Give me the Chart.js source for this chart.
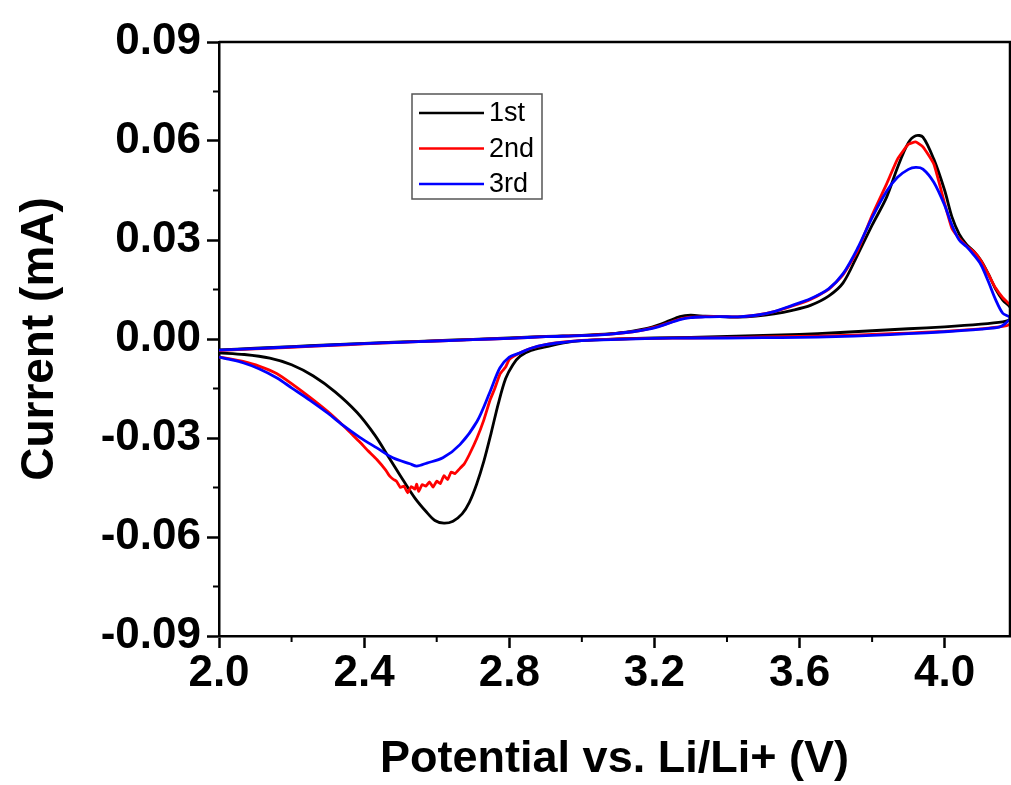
<!DOCTYPE html>
<html>
<head>
<meta charset="utf-8">
<script src="https://cdn.jsdelivr.net/npm/chart.js@4.4.1/dist/chart.umd.min.js"></script>
<style>
  html, body { margin: 0; padding: 0; background: #fff; }
  canvas { display: block; }
</style>
</head>
<body>
<canvas id="cv" width="1011" height="785"></canvas>
<script>
// tick positions
const xTicks = [2.0, 2.4, 2.8, 3.2, 3.6, 4.0];
const xMinorTicks = [2.2, 2.6, 3.0, 3.4, 3.8];
const yTicks = [-0.09, -0.06, -0.03, 0.00, 0.03, 0.06, 0.09];
const yMinorTicks = [-0.075, -0.045, -0.015, 0.015, 0.045, 0.075];

const cycleLabels = ['1st', '2nd', '3rd'];
const cycleColors = ['#000000', '#ff0000', '#0000ff'];

// anodic sweep 2.0 -> 4.18 V, shared potential grid
const anodicV = [2.00, 2.10, 2.20, 2.30, 2.40, 2.50, 2.60, 2.70, 2.80, 2.90, 3.00, 3.08, 3.14, 3.18, 3.21, 3.24,
  3.27, 3.30, 3.34, 3.38, 3.43, 3.48, 3.53, 3.58, 3.63, 3.68, 3.72, 3.76, 3.80, 3.84, 3.87, 3.90, 3.92, 3.94,
  3.97, 4.00, 4.02, 4.04, 4.06, 4.08, 4.10, 4.12, 4.14, 4.16, 4.18];

const cycle1AnodicI = [-0.0033, -0.0028, -0.0023, -0.0018, -0.0013, -0.0009, -0.0005, -0.0001, 0.0003, 0.0008,
  0.0011, 0.0016, 0.0024, 0.0032, 0.0042, 0.0055, 0.0068, 0.0072, 0.0069, 0.0068, 0.0066, 0.0069, 0.0076,
  0.0087, 0.0102, 0.0130, 0.0170, 0.0255, 0.0345, 0.0430, 0.0520, 0.0595, 0.0616, 0.0612, 0.0545, 0.0450,
  0.0370, 0.0318, 0.0287, 0.0266, 0.0238, 0.0198, 0.0152, 0.0118, 0.0097];

const cycle2AnodicI = [-0.0035, -0.0030, -0.0025, -0.0020, -0.0015, -0.0010, -0.0006, -0.0002, 0.0002, 0.0007,
  0.0010, 0.0015, 0.0022, 0.0030, 0.0038, 0.0049, 0.0060, 0.0066, 0.0068, 0.0068, 0.0067, 0.0072, 0.0083,
  0.0100, 0.0120, 0.0150, 0.0195, 0.0268, 0.0375, 0.0470, 0.0545, 0.0590, 0.0597, 0.0582, 0.0530, 0.0410,
  0.0335, 0.0305, 0.0282, 0.0265, 0.0237, 0.0197, 0.0155, 0.0125, 0.0103];

const cycle3AnodicI = [-0.0034, -0.0029, -0.0024, -0.0019, -0.0014, -0.0010, -0.0006, -0.0002, 0.0002, 0.0007,
  0.0010, 0.0015, 0.0022, 0.0029, 0.0037, 0.0048, 0.0059, 0.0065, 0.0067, 0.0068, 0.0067, 0.0072, 0.0083,
  0.0102, 0.0122, 0.0152, 0.0198, 0.0275, 0.0368, 0.0448, 0.0490, 0.0514, 0.0520, 0.0515, 0.0475, 0.0405,
  0.0345, 0.0300, 0.0280, 0.0255, 0.0225, 0.0175, 0.0120, 0.0078, 0.0064];

// cathodic sweep back to 2.0 V
const cycle1CathodicV = [4.20, 4.18, 4.16, 4.10, 4.00, 3.90, 3.80, 3.70, 3.60, 3.50, 3.40, 3.30, 3.20, 3.10, 3.00,
  2.95, 2.90, 2.86, 2.83, 2.81, 2.79, 2.77, 2.75, 2.73, 2.71, 2.69, 2.67, 2.645, 2.62, 2.595, 2.57, 2.54, 2.51,
  2.47, 2.43, 2.38, 2.32, 2.26, 2.20, 2.14, 2.07, 2.00];
const cycle1CathodicI = [0.0068, 0.0058, 0.0052, 0.0045, 0.0037, 0.0031, 0.0025, 0.0019, 0.0014, 0.0011, 0.0008,
  0.0005, 0.0003, 0.0000, -0.0005, -0.0012, -0.0024, -0.0035, -0.0052, -0.0078, -0.0120, -0.0195, -0.0285,
  -0.0370, -0.0440, -0.0495, -0.0530, -0.0552, -0.0558, -0.0550, -0.0522, -0.0482, -0.0432, -0.0362, -0.0292,
  -0.0222, -0.0160, -0.0112, -0.0078, -0.0058, -0.0047, -0.0042];

const cycle2CathodicV = [4.20, 4.18, 4.16, 4.10, 4.00, 3.90, 3.80, 3.70, 3.60, 3.50, 3.40, 3.30, 3.20, 3.10, 3.00,
  2.95, 2.90, 2.86, 2.83, 2.80, 2.79, 2.775, 2.76, 2.747, 2.73, 2.711, 2.69, 2.675, 2.664, 2.65, 2.64, 2.63, 2.62,
  2.61, 2.60, 2.59, 2.58, 2.57, 2.56, 2.55, 2.545, 2.54, 2.53, 2.52, 2.51, 2.50, 2.49, 2.48, 2.47, 2.46, 2.435,
  2.41, 2.388, 2.365, 2.342, 2.30, 2.25, 2.20, 2.16, 2.11, 2.066, 2.03, 2.00];
const cycle2CathodicI = [0.0070, 0.0045, 0.0038, 0.0031, 0.0023, 0.0018, 0.0014, 0.0010, 0.0008, 0.0006, 0.0004,
  0.0003, 0.0002, 0.0000, -0.0004, -0.0009, -0.0017, -0.0028, -0.0042, -0.0062, -0.0085, -0.0105, -0.0150,
  -0.0185, -0.0245, -0.0300, -0.0350, -0.0380, -0.0392, -0.0408, -0.0403, -0.0426, -0.0414, -0.0438, -0.0431,
  -0.0449, -0.0433, -0.0446, -0.0441, -0.0462, -0.0440, -0.0455, -0.0447, -0.0466, -0.0446, -0.0450, -0.0432,
  -0.0425, -0.0415, -0.0398, -0.0365, -0.0338, -0.0312, -0.0287, -0.0262, -0.0220, -0.0176, -0.0135, -0.0105,
  -0.0082, -0.0068, -0.0060, -0.0055];

const cycle3CathodicV = [4.165, 4.15, 4.10, 4.00, 3.90, 3.80, 3.70, 3.60, 3.50, 3.40, 3.30, 3.20, 3.10, 3.00,
  2.95, 2.90, 2.86, 2.83, 2.80, 2.774, 2.747, 2.711, 2.664, 2.617, 2.573, 2.545, 2.526, 2.479, 2.435, 2.388,
  2.342, 2.30, 2.25, 2.20, 2.16, 2.11, 2.066, 2.03, 2.00];
const cycle3CathodicI = [0.0045, 0.0036, 0.0030, 0.0022, 0.0016, 0.0011, 0.0007, 0.0005, 0.0004, 0.0003, 0.0003,
  0.0002, -0.0001, -0.0005, -0.0010, -0.0017, -0.0028, -0.0042, -0.0055, -0.0088, -0.0160, -0.0250, -0.0320,
  -0.0360, -0.0376, -0.0385, -0.0378, -0.0360, -0.0330, -0.0298, -0.0262, -0.0225, -0.0185, -0.0148, -0.0118,
  -0.0090, -0.0072, -0.0062, -0.0055];

function toPoints(vs, is) {
    return vs.map((v, i) => ({ x: v, y: is[i] }));
}

const cycles = [
    toPoints(anodicV, cycle1AnodicI).concat(toPoints(cycle1CathodicV, cycle1CathodicI)),
    toPoints(anodicV, cycle2AnodicI).concat(toPoints(cycle2CathodicV, cycle2CathodicI)),
    toPoints(anodicV, cycle3AnodicI).concat(toPoints(cycle3CathodicV, cycle3CathodicI))
];

Chart.defaults.font.family = "'Liberation Sans', Arial, sans-serif";
Chart.defaults.color = '#000';

// minor ticks, top/right frame and the boxed legend
const framePlugin = {
    id: 'frame',
    afterDraw(chart) {
        const { ctx, chartArea, scales } = chart;
        const { left, right, top, bottom } = chartArea;
        ctx.save();
        ctx.strokeStyle = '#000';
        ctx.lineWidth = 2.5;
        ctx.beginPath();
        ctx.moveTo(left, top);
        ctx.lineTo(right, top);
        ctx.lineTo(right, bottom);
        ctx.stroke();

        ctx.lineWidth = 2;
        ctx.beginPath();
        xMinorTicks.forEach(v => {
            const px = scales.x.getPixelForValue(v);
            ctx.moveTo(px, bottom);
            ctx.lineTo(px, bottom + 6);
        });
        yMinorTicks.forEach(v => {
            const py = scales.y.getPixelForValue(v);
            ctx.moveTo(left, py);
            ctx.lineTo(left - 6, py);
        });
        ctx.stroke();

        // legend box
        const bx = left + 193, by = top + 52, bw = 130, bh = 105;
        ctx.fillStyle = '#fff';
        ctx.fillRect(bx, by, bw, bh);
        ctx.strokeStyle = '#555';
        ctx.lineWidth = 1.5;
        ctx.strokeRect(bx, by, bw, bh);
        ctx.font = "27px 'Liberation Sans', Arial, sans-serif";
        ctx.textBaseline = 'middle';
        chart.data.datasets.forEach((ds, i) => {
            const ly = by + 19 + i * 35.5;
            ctx.strokeStyle = ds.borderColor;
            ctx.lineWidth = 2.5;
            ctx.beginPath();
            ctx.moveTo(bx + 7, ly);
            ctx.lineTo(bx + 72, ly);
            ctx.stroke();
            ctx.fillStyle = '#000';
            ctx.fillText(ds.label, bx + 77, ly + 1);
        });
        ctx.restore();
    }
};

new Chart(document.getElementById('cv'), {
    type: 'scatter',
    data: {
        datasets: cycles.map((pts, i) => ({
            label: cycleLabels[i],
            data: pts,
            showLine: true,
            borderColor: cycleColors[i],
            backgroundColor: cycleColors[i],
            borderWidth: 2.8,
            pointRadius: 0,
            tension: i === 1 ? 0.15 : 0.3,
            order: 2 - i
        }))
    },
    options: {
        responsive: false,
        animation: false,
        layout: { padding: { top: 42, right: 1, left: 0, bottom: 0 } },
        plugins: {
            legend: { display: false },
            tooltip: { enabled: false }
        },
        scales: {
            x: {
                type: 'linear',
                min: 2.0,
                max: 4.18,
                afterBuildTicks: scale => { scale.ticks = xTicks.map(v => ({ value: v })); },
                afterFit: scale => { scale.height = 149; },
                ticks: {
                    font: { size: 44, weight: 'bold', lineHeight: 1 },
                    padding: 4,
                    maxRotation: 0,
                    callback: v => v.toFixed(1)
                },
                grid: {
                    drawOnChartArea: false,
                    tickLength: 12,
                    tickColor: '#000',
                    tickWidth: 2.5
                },
                border: { color: '#000', width: 2.5 },
                title: {
                    display: true,
                    text: 'Potential vs. Li/Li+ (V)',
                    font: { size: 45, weight: 'bold', lineHeight: 1 },
                    padding: { top: 0, bottom: 3 }
                }
            },
            y: {
                type: 'linear',
                min: -0.09,
                max: 0.09,
                afterBuildTicks: scale => { scale.ticks = yTicks.map(v => ({ value: v })); },
                afterFit: scale => { scale.width = 219; },
                ticks: {
                    font: { size: 44, weight: 'bold', lineHeight: 1 },
                    padding: 6,
                    callback: v => v.toFixed(2)
                },
                grid: {
                    drawOnChartArea: false,
                    tickLength: 12,
                    tickColor: '#000',
                    tickWidth: 2.5
                },
                border: { color: '#000', width: 2.5 },
                title: {
                    display: true,
                    text: 'Current (mA)',
                    font: { size: 46, weight: 'bold', lineHeight: 1 },
                    padding: { top: 17, bottom: 0 }
                }
            }
        }
    },
    plugins: [framePlugin]
});
</script>
</body>
</html>
